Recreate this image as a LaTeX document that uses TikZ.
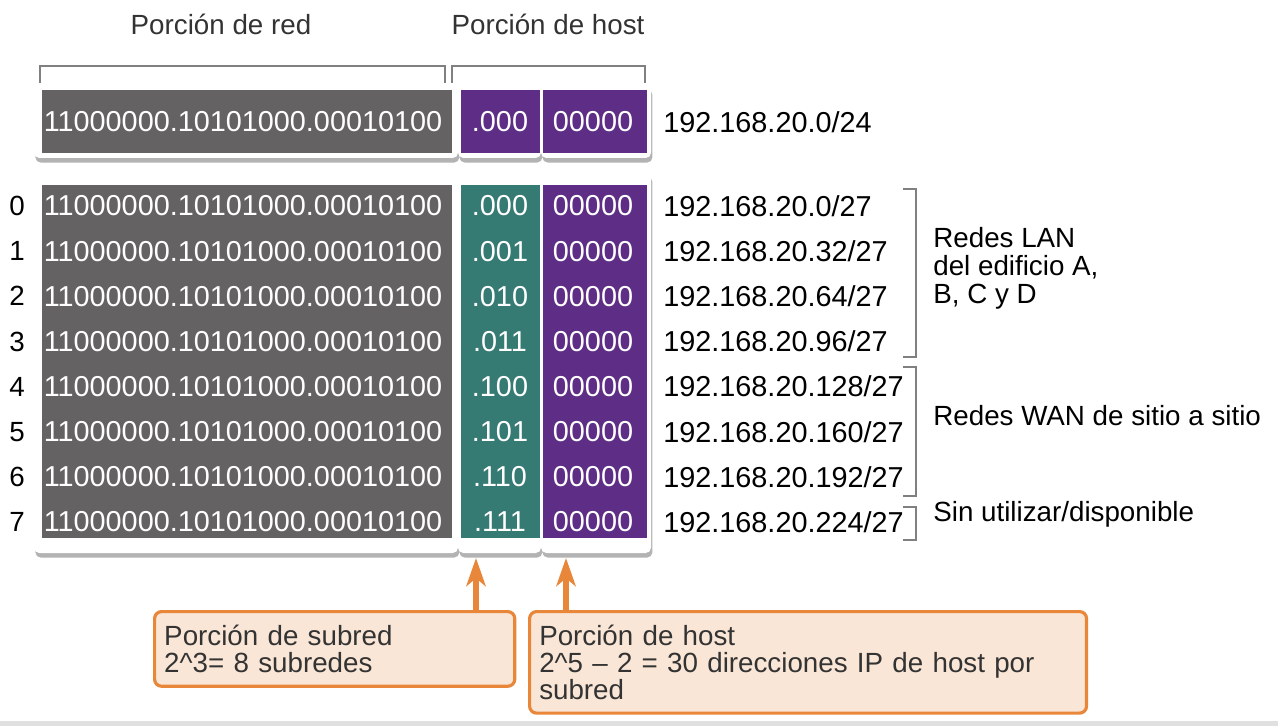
\documentclass[tikz,border=0pt]{standalone}
\usepackage{fontspec}
\setmainfont{Liberation Sans}
\usepackage{tikz}
\usetikzlibrary{arrows.meta, shadows, positioning}

\definecolor{netgray}{HTML}{656263}
\definecolor{subteal}{HTML}{367A74}
\definecolor{hostpurple}{HTML}{5E2E86}
\definecolor{calloutfill}{HTML}{FAE6D6}
\definecolor{calloutline}{HTML}{E8873A}
\definecolor{brkgray}{HTML}{808080}
\definecolor{labeltext}{HTML}{333333}

\tikzset{
  txt/.style={font=\fontsize{15.8}{15.4}\selectfont, inner sep=0pt},
  celltxt/.style={txt, text=white, font=\fontsize{16.4}{16}\selectfont},
  iplabel/.style={txt, anchor=west},
  addrlabel/.style={iplabel, font=\fontsize{16.4}{16}\selectfont},
  card/.style={fill=white, rounded corners=3pt, drop shadow={shadow xshift=0.8pt, shadow yshift=-2.6pt, opacity=0.6}},
  brk/.style={brkgray, line width=1.1pt},
  callout/.style={txt, text=labeltext, draw=calloutline, fill=calloutfill, line width=1.8pt, rounded corners=4pt, anchor=north west, align=left, inner xsep=5.5pt},
  pointer/.style={calloutline, line width=3.2pt, -{Stealth[length=16pt, width=11pt, inset=4.5pt]}},
}

\begin{document}
\begin{tikzpicture}[x=0.02cm, y=-0.02cm]
            \useasboundingbox (0,0) rectangle (1278,726);
            \node[txt, text=labeltext] (redlabel) at (221,24) {Porción de red};
            \node[txt, text=labeltext] (hostlabel) at (548,24) {Porción de host};
            \draw[brk] (40,83) -- (40,66) -- (445,66) -- (445,83);
            \draw[brk] (452,83) -- (452,66) -- (645,66) -- (645,83);
            \begin{scope}
                \fill[card] (34,85) rectangle (458,158);
                \fill[card] (458,85) rectangle (541,158);
                \fill[card] (541,85) rectangle (651,158);
                \fill[netgray] (42,90) rectangle (452,153);
                \fill[hostpurple] (461,90) rectangle (540,153);
                \fill[hostpurple] (543,90) rectangle (647,153);
                \node[celltxt] (net) at (243,122) {11000000.10101000.00010100};
                \node[celltxt] (sub) at (500,122) {.000};
                \node[celltxt] (host) at (593,122) {00000};
                \node[addrlabel] (ip) at (663,122) {192.168.20.0/24};
            \end{scope}
            \begin{scope}
                \fill[card] (34,172) rectangle (458,553);
                \fill[card] (458,172) rectangle (541,553);
                \fill[card] (541,172) rectangle (651,553);
                \fill[netgray] (42,185) rectangle (452,538);
                \fill[subteal] (461,185) rectangle (540,538);
                \fill[hostpurple] (543,185) rectangle (647,538);
                \foreach \i/\bits/\ip in {0/000/0, 1/001/32, 2/010/64, 3/011/96, 4/100/128, 5/101/160, 6/110/192, 7/111/224} {
                    \node[txt] (num\i) at (17,{206+45.15*\i}) {\i};
                    \node[celltxt] (net\i) at (243,{206+45.15*\i}) {11000000.10101000.00010100};
                    \node[celltxt] (sub\i) at (500,{206+45.15*\i}) {.\bits};
                    \node[celltxt] (host\i) at (593,{206+45.15*\i}) {00000};
                    \node[addrlabel] (ip\i) at (663,{206+45.15*\i}) {192.168.20.\ip/27};
                }
            \end{scope}
            \draw[brk] (903,189) -- (916,189) -- (916,357) -- (903,357);
            \draw[brk] (903,367) -- (916,367) -- (916,496) -- (903,496);
            \draw[brk] (903,507) -- (916,507) -- (916,540) -- (903,540);
            \node[iplabel, align=left, font=\fontsize{15.8}{15.9}\selectfont] (lan) at (933,268) {Redes LAN\\del edificio A,\\B, C y D};
            \node[iplabel] (wan) at (933,416) {Redes WAN de sitio a sitio};
            \node[iplabel] (spare) at (933,514) {Sin utilizar/disponible};
            \node[callout, text width=194pt, minimum height=42.5pt] (callsub) at (153,610) {Porción de subred\\2\textasciicircum3= 8 subredes};
            \node[callout, text width=306pt, minimum height=57.8pt] (callhost) at (528,610) {Porción de host\\2\textasciicircum5 – 2 = 30 direcciones IP de host por\\subred};
            \coordinate (subtip) at (476,558);
            \coordinate (hosttip) at (566,558);
            \draw[pointer] (callsub.north -| subtip) -- (subtip);
            \draw[pointer] (callhost.north -| hosttip) -- (hosttip);
            \fill[black!12] (0,721) rectangle (1278,726);
        \end{tikzpicture}
\end{document}
